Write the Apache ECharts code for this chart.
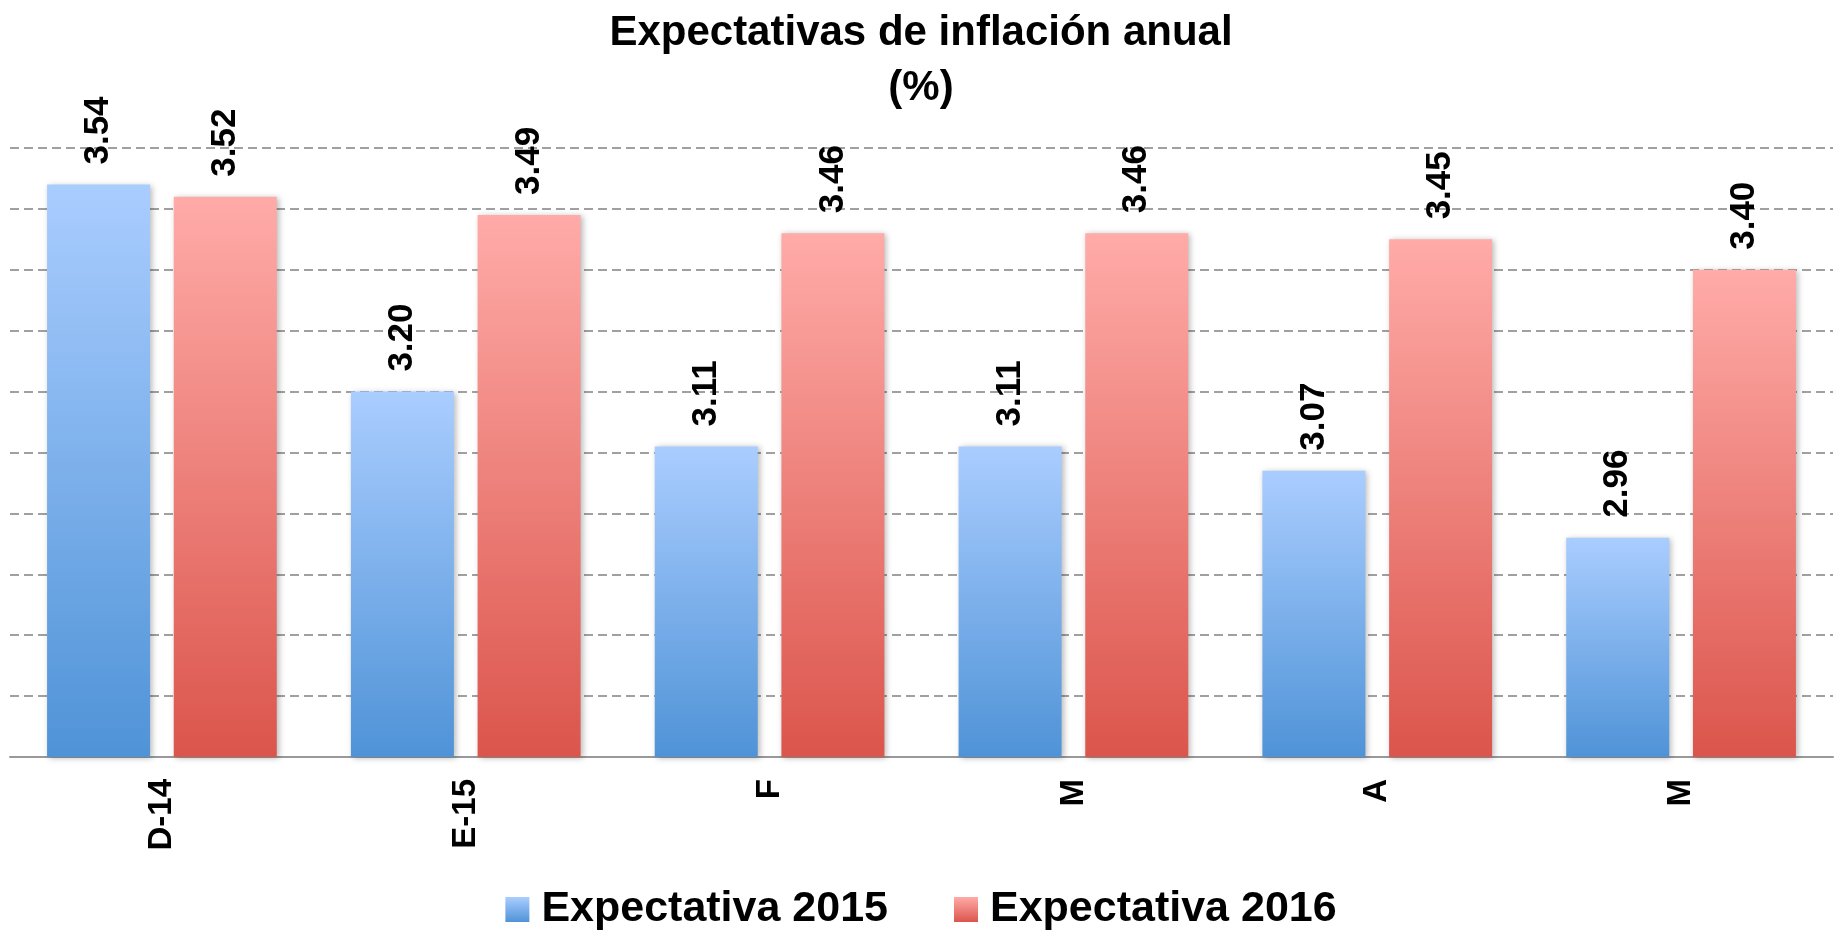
<!DOCTYPE html>
<html>
<head>
<meta charset="utf-8">
<script src="https://cdn.jsdelivr.net/npm/echarts@6/dist/echarts.min.js"></script>
<style>
html,body{margin:0;padding:0;background:#fff;}
#chart{width:1842px;height:938px;}
</style>
</head>
<body>
<div id="chart"></div>
<script>
const titleText = 'Expectativas de inflación anual\n(%)';
const categories = ['D-14', 'E-15', 'F', 'M', 'A', 'M'];
const seriesNames = ['Expectativa 2015', 'Expectativa 2016'];
const exp2015 = [3.54, 3.20, 3.11, 3.11, 3.07, 2.96];
const exp2016 = [3.52, 3.49, 3.46, 3.46, 3.45, 3.40];
const yMin = 2.6, yMax = 3.6, yStep = 0.1;

const FONT = '"Liberation Sans", Arial, sans-serif';

function grad(top, bottom) {
  return new echarts.graphic.LinearGradient(0, 0, 0, 1, [
    {offset: 0, color: top},
    {offset: 1, color: bottom}
  ]);
}

const labelCfg = {
  show: true,
  position: 'top',
  rotate: 90,
  align: 'left',
  verticalAlign: 'middle',
  distance: 20,
  fontFamily: FONT,
  fontWeight: 'bold',
  fontSize: 35,
  color: '#000',
  formatter: p => p.value.toFixed(2)
};

const chart = echarts.init(document.getElementById('chart'));
chart.setOption({
  animation: false,
  backgroundColor: '#fff',
  title: {
    text: titleText,
    left: 'center',
    top: 1,
    textStyle: {
      fontFamily: FONT,
      fontWeight: 'bold',
      fontSize: 42,
      lineHeight: 55,
      color: '#000'
    }
  },
  legend: {
    bottom: 2,
    left: 'center',
    itemWidth: 24,
    itemHeight: 25,
    itemGap: 66,
    icon: 'rect',
    textStyle: {
      fontFamily: FONT,
      fontWeight: 'bold',
      fontSize: 43,
      color: '#000',
      padding: [0, 0, 0, 7]
    },
    data: seriesNames
  },
  grid: {left: 10, right: 9, top: 148, bottom: 181, containLabel: false},
  xAxis: {
    type: 'category',
    data: categories,
    axisLine: {show: true, lineStyle: {color: '#999', width: 2}},
    axisTick: {show: false},
    axisLabel: {
      rotate: 90,
      margin: 22,
      fontFamily: FONT,
      fontWeight: 'bold',
      fontSize: 33,
      color: '#000'
    }
  },
  yAxis: {
    type: 'value',
    min: yMin,
    max: yMax,
    interval: yStep,
    axisLabel: {show: false},
    axisLine: {show: false},
    axisTick: {show: false},
    splitLine: {show: true, lineStyle: {color: '#a0a0a0', width: 2, type: [9, 5]}}
  },
  series: [
    {
      name: seriesNames[0],
      type: 'bar',
      data: exp2015,
      barWidth: 103,
      barGap: '23%',
      itemStyle: {
        color: grad('#aacdff', '#4f93d7'),
        shadowBlur: 6,
        shadowColor: 'rgba(0,0,0,0.28)',
        shadowOffsetX: 2,
        shadowOffsetY: 1
      },
      label: labelCfg
    },
    {
      name: seriesNames[1],
      type: 'bar',
      data: exp2016,
      barWidth: 103,
      barGap: '23%',
      itemStyle: {
        color: grad('#ffaba8', '#db554c'),
        shadowBlur: 6,
        shadowColor: 'rgba(0,0,0,0.28)',
        shadowOffsetX: 2,
        shadowOffsetY: 1
      },
      label: labelCfg
    }
  ]
});
</script>
</body>
</html>
